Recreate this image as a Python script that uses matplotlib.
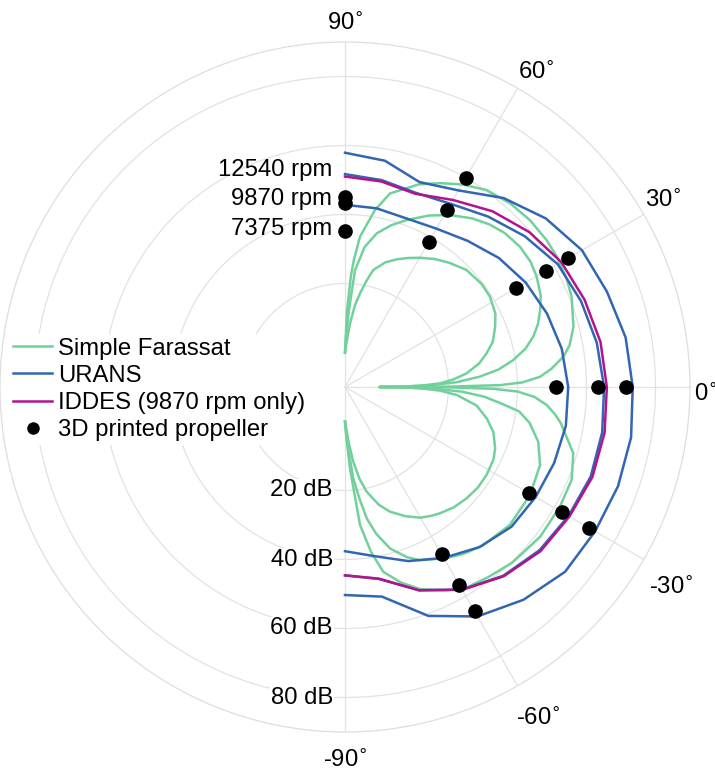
import numpy as np
import matplotlib
matplotlib.use("Agg")
import matplotlib.pyplot as plt
from matplotlib.lines import Line2D
from matplotlib.transforms import offset_copy

plt.rcParams['font.family'] = ['Liberation Sans', 'DejaVu Sans']

# ---------------------------------------------------------------- data (dB)
# CFD results sampled every 10 degrees
cfd_angles = [90, 80, 70, 60, 50, 40, 30, 20, 10, 0,
              -10, -20, -30, -40, -50, -60, -70, -80, -90]
urans_12540 = [57.9, 56.6, 53.2, 55.8, 61.5, 66.0, 69.3, 70.8, 72.6, 73.4,
               74.2, 74.2, 73.7, 73.3, 70.5, 66.8, 60.6, 51.7, 50.3]
urans_9870 = [51.7, 50.9, 49.9, 51.3, 54.5, 58.0, 61.2, 62.8, 64.1, 65.1,
              65.7, 65.8, 64.8, 63.6, 61.4, 57.8, 52.7, 46.5, 44.6]
urans_7375 = [42.8, 42.6, 42.0, 43.0, 45.3, 48.2, 50.5, 52.3, 53.8, 54.7,
              55.0, 54.5, 53.8, 53.0, 50.6, 47.2, 43.7, 39.8, 37.6]
iddes_9870 = [51.0, 50.5, 49.6, 52.6, 56.5, 59.8, 62.4, 63.9, 65.2, 65.9,
              66.4, 66.3, 65.1, 64.0, 61.6, 57.9, 52.7, 46.4, 44.6]

# measurements, 3D printed propeller
exp_angles = [90, 60, 30, 0, -30, -60]
exp_12540 = [45.2, 59.9, 64.7, 71.4, 71.5, 65.1]
exp_9870 = [43.2, 49.2, 57.3, 63.2, 62.6, 56.3]
exp_7375 = [35.2, 38.5, 47.3, 51.2, 51.7, 46.0]

# simple Farassat prediction
far_12540_ang = [90, 88.5, 87, 86, 84.3, 80.4, 76.9, 70, 65, 60, 54.3, 48, 42,
                 36, 31.6, 26, 21.7, 14.8, 10.5, 7.9, 5, 3, 1.5, 0.7, 0.2, 0,
                 -0.2, -0.7, -1.5, -3, -5.1, -7.5, -9.6, -11.9, -16.2, -22.3,
                 -29.1, -37.5, -46.4, -53, -59.6, -64, -69.6, -74, -78.3, -81,
                 -83.8, -86.5, -88, -90]
far_12540_db = [0, 12, 22, 27, 33.8, 42.0, 47.6, 52.5, 55.2, 57.8, 60.3, 61.6,
                62.2, 62.3, 62.1, 61.5, 60.7, 58.5, 56.2, 53.9, 50.0, 46.6,
                41.5, 35.0, 20, 0,
                20, 33, 40, 45, 48.7, 51.5, 53.5, 55.2, 58.9, 61.0,
                61.3, 61.3, 60.3, 59.0, 57.9, 55.5, 52.5, 49.0, 44.7, 38.5,
                30.2, 13.6, 6, 0]

far_9870_ang = [90, 88.5, 87, 85.1, 82, 78.3, 74, 69.7, 64, 58.6, 53, 48.5,
                44, 38.7, 34, 29.9, 25, 21.5, 18, 15, 12, 9.1, 6.5, 4.4, 2.5,
                1.3, 0.5, 0,
                -0.5, -1.3, -2.3, -4, -6, -8, -11, -15.8, -21.8, -30.3, -39.9,
                -48.8, -54, -59.3, -66.6, -70, -74.4, -78, -80.6, -82.5,
                -84.8, -87, -88.5, -90]
far_9870_db = [0, 6, 12.5, 24.0, 31.0, 35.5, 38.8, 41.6, 45.3, 48.4, 51.2,
               53.0, 54.3, 55.0, 54.9, 54.1, 52.6, 50.8, 48.8, 46.5, 43.5,
               39.4, 34.8, 29.2, 22.5, 15.6, 8, 0,
               9, 17, 24, 30.5, 35.5, 41.0, 44.5, 48.2, 50.9, 52.1, 52.3,
               50.9, 49.5, 47.7, 44.7, 42.5, 38.6, 33.5, 28.6, 23.0,
               16.6, 8, 4, 0]

far_7375_ang = [90, 88, 85.5, 83, 80.9, 78.5, 76.4, 72, 68, 64, 59.9, 55, 50,
                43.9, 37, 31.9, 26, 21.9, 17, 13.4, 10, 6.4, 4, 2.2, 1, 0.3, 0,
                -0.3, -1, -2.2, -4.1, -8, -12.5, -17, -22.2, -26, -31.8, -37,
                -42.4, -48, -53, -56, -60.1, -65, -70.2, -74, -78.3, -81,
                -83.7, -86, -88, -90]
far_7375_db = [0, 3, 8.5, 14.0, 17.5, 21.5, 24.9, 28.0, 29.9, 31.6, 33.3,
               35.3, 37.0, 38.9, 39.6, 39.5, 38.5, 36.9, 34.8, 32.2, 29.5,
               25.5, 21.5, 17.6, 12, 6, 0,
               6, 12, 17.6, 22.5, 28.5, 32.1, 35.0, 37.0, 37.9, 38.3, 38.3,
               37.8, 37.0, 35.8, 35.0, 33.7, 31.3, 28.4, 25.5, 21.0, 17.0,
               11.8, 6.5, 2.5, 0]

rpm_labels = ['12540 rpm', '9870 rpm', '7375 rpm']
r_ticks = [20, 40, 60, 80]
theta_ticks = [-90, -60, -30, 0, 30, 60, 90]

# ---------------------------------------------------------------- layout
rpm_label_r = [53.0, 44.4, 35.7]     # radius of the rpm captions
# pixel offsets of the angle captions from the rim point (right, up)
theta_label_dx = [0, 21, 27, 16, 20, 19, 0]
theta_label_dy = [-29, -33, -28, -8, 14, 15, 18]
c_far = '#72d19b'
c_urans = '#3266b2'
c_iddes = '#b3138d'
lw = 1.8
fs = 17.2
r_min, r_max = -10, 90

fig = plt.figure(figsize=(7.15, 7.76), dpi=100)
ax = fig.add_axes([0.0, 44 / 776, 690 / 715, 690 / 776], projection='polar')

rad = np.deg2rad

for ang, db in [(far_12540_ang, far_12540_db),
                (far_9870_ang, far_9870_db),
                (far_7375_ang, far_7375_db)]:
    ax.plot(rad(ang), db, color=c_far, lw=lw, zorder=2)

for vals in [urans_12540, urans_9870, urans_7375]:
    ax.plot(rad(cfd_angles), vals, color=c_urans, lw=lw, zorder=3)

ax.plot(rad(cfd_angles), iddes_9870, color=c_iddes, lw=lw, zorder=4)

for vals in [exp_12540, exp_9870, exp_7375]:
    ax.plot(rad(exp_angles), vals, 'o', color='black', ms=9.5, zorder=5)

# grid and ticks (tick angles wrapped into [0, 2pi) to keep the full circle)
ax.set_xticks(np.mod(rad(theta_ticks), 2 * np.pi))
ax.set_xticklabels([])
ax.set_thetalim(0, 2 * np.pi)
ax.set_rlim(r_min, r_max)
ax.set_yticks(r_ticks)
ax.set_yticklabels([])
ax.grid(True, color='#e2e2e2', lw=0.9)
ax.spines['polar'].set_color('#dedede')
ax.spines['polar'].set_linewidth(0.9)

# angle labels outside the rim
for t, dx, dy in zip(theta_ticks, theta_label_dx, theta_label_dy):
    tr = offset_copy(ax.transData, fig=fig, x=dx, y=dy, units='dots')
    ax.text(rad(t), r_max, f'{t}' + r'$^{\circ}$', transform=tr,
            ha='center', va='center', fontsize=fs, clip_on=False)

# radial labels along the -90 degree spoke
lab_tr = offset_copy(ax.transData, fig=fig, x=-12, y=0, units='dots')
for r in r_ticks:
    ax.text(rad(-90), r, f'{r} dB', transform=lab_tr, ha='right', va='center',
            fontsize=fs, zorder=6,
            bbox=dict(facecolor='white', edgecolor='none', pad=0.5))

# rotor speed labels along the 90 degree spoke
rpm_tr = offset_copy(ax.transData, fig=fig, x=-13, y=0, units='dots')
for txt, r in zip(rpm_labels, rpm_label_r):
    ax.text(rad(90), r, txt, transform=rpm_tr, ha='right', va='center',
            fontsize=fs, zorder=6)

handles = [
    Line2D([], [], color=c_far, lw=lw),
    Line2D([], [], color=c_urans, lw=lw),
    Line2D([], [], color=c_iddes, lw=lw),
    Line2D([], [], ls='none', marker='o', color='black', ms=8),
]
names = ['Simple Farassat', 'URANS', 'IDDES (9870 rpm only)',
         '3D printed propeller']
leg = fig.legend(handles, names, loc='upper left',
                 bbox_to_anchor=(0.013, 1 - 334 / 776),
                 bbox_transform=fig.transFigure, fontsize=fs,
                 frameon=True, facecolor='white', edgecolor='none',
                 framealpha=1, borderpad=0.15, borderaxespad=0,
                 handlelength=1.65, handletextpad=0.25, labelspacing=0.22)
leg.set_zorder(10)

fig.savefig('out.png', dpi=100)
